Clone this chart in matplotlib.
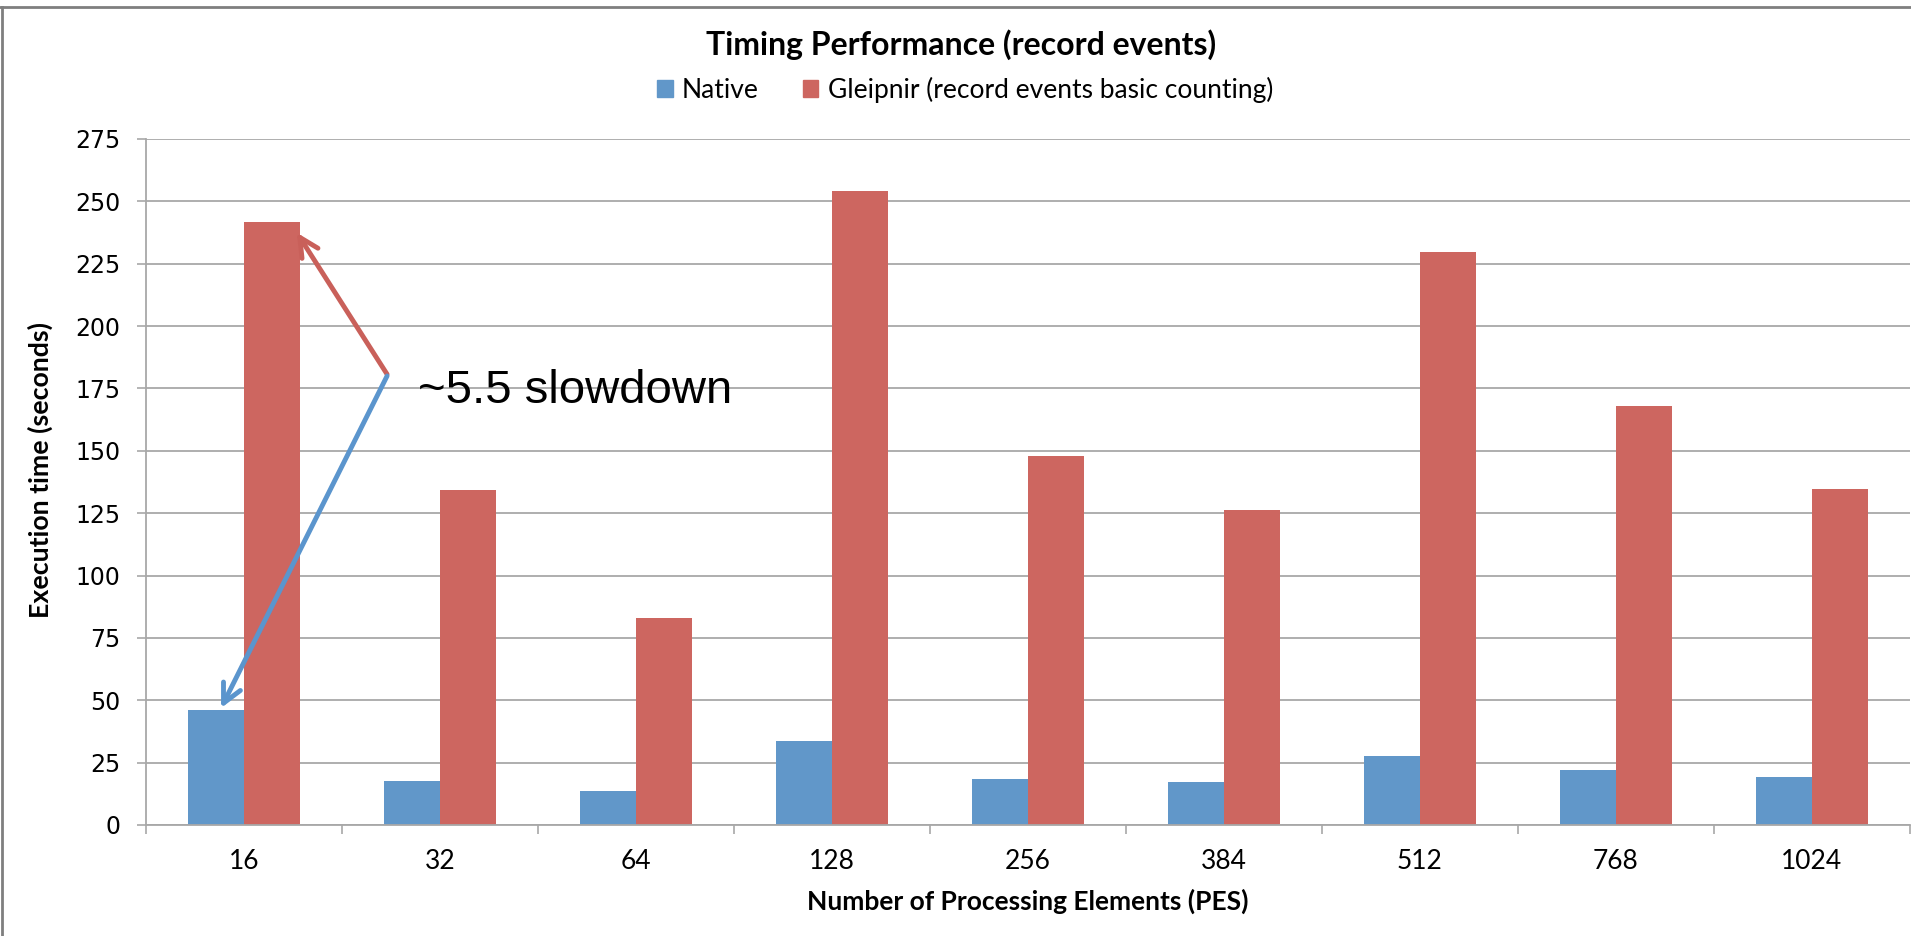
import numpy as np
import matplotlib.pyplot as plt
from matplotlib.lines import Line2D
from matplotlib.patches import Patch

# data
pes = ["16", "32", "64", "128", "256", "384", "512", "768", "1024"]
native = [46.0, 17.6, 13.8, 33.6, 18.4, 17.4, 27.7, 22.0, 19.1]
gleipnir = [241.8, 134.1, 83.0, 254.1, 148.0, 126.3, 229.6, 168.0, 134.8]

BLUE = "#6197C9"
RED = "#CD6660"
GRID = "#A8A8A8"
W, H = 1911, 936

fig = plt.figure(figsize=(W / 100, H / 100), dpi=100)
ax = fig.add_axes([146 / W, 1 - 825 / H, (1910 - 146) / W, (825 - 139) / H])

x = np.arange(len(pes))
bw = 1 / 3.5  # excel gap width 150%
ax.bar(x - bw / 2, native, bw, color=BLUE, zorder=2)
ax.bar(x + bw / 2, gleipnir, bw, color=RED, zorder=2)

ax.set_xlim(-0.5, len(pes) - 0.5)
ax.set_ylim(0, 275)
ax.set_yticks(np.arange(0, 276, 25))
ax.yaxis.grid(True, color=GRID, lw=1.3)
ax.set_axisbelow(True)

ax.set_xticks(x)
ax.set_xticklabels(pes, fontfamily="Lato", fontsize=19)
ax.set_xticks(np.arange(-0.5, len(pes), 1), minor=True)
ax.tick_params(axis="x", which="major", length=0, pad=17)
ax.tick_params(axis="x", which="minor", length=6.5, color=GRID, width=1.2)
ax.tick_params(axis="y", length=6.5, color=GRID, width=1.2, pad=12, labelsize=17)

for s in ["top", "right"]:
    ax.spines[s].set_visible(False)
for s in ["left", "bottom"]:
    ax.spines[s].set_color(GRID)
    ax.spines[s].set_linewidth(1.3)

fig.text(40 / W, 1 - 470 / H, "Execution time (seconds)", rotation=90,
         ha="center", va="center", fontfamily="Lato", fontweight="bold", fontsize=19.3)
fig.text(1028 / W, 1 - 901 / H, "Number of Processing Elements (PES)",
         ha="center", va="center", fontfamily="Lato", fontweight="bold", fontsize=19)
fig.text(961 / W, 1 - 45 / H, "Timing Performance (record events)",
         ha="center", va="center", fontfamily="Lato", fontweight="bold", fontsize=23)

handles = [Patch(color=BLUE), Patch(color=RED)]
fig.legend(handles, ["Native", "Gleipnir (record events basic counting)"],
           loc="center", bbox_to_anchor=(965 / W, 1 - 90 / H), ncol=2, frameon=False,
           prop={"family": "Lato", "size": 19}, handlelength=0.6, handleheight=0.6,
           handletextpad=0.35, columnspacing=1.65)

# annotation
ax.annotate("", xy=(0.27, 237.4), xytext=(0.73, 180.7),
            arrowprops=dict(arrowstyle="->", color="#C9605A", lw=3.5, mutation_scale=34,
                            shrinkA=0, shrinkB=0))
ax.annotate("", xy=(-0.117, 46.9), xytext=(0.73, 180.0),
            arrowprops=dict(arrowstyle="->", color="#5B95CD", lw=3.5, mutation_scale=34,
                            shrinkA=0, shrinkB=0))
ax.text(0.89, 174, "~5.5 slowdown", fontfamily="Liberation Sans", fontsize=34,
        ha="left", va="center", zorder=5)

# chart frame (left and top edges visible)
fig.add_artist(Line2D([1.5 / W, 1.5 / W], [0, 1 - 7 / H], color="#7F7F7F", lw=2))
fig.add_artist(Line2D([0, 1], [1 - 7 / H, 1 - 7 / H], color="#7F7F7F", lw=2))

fig.savefig("out.png", dpi=100)
